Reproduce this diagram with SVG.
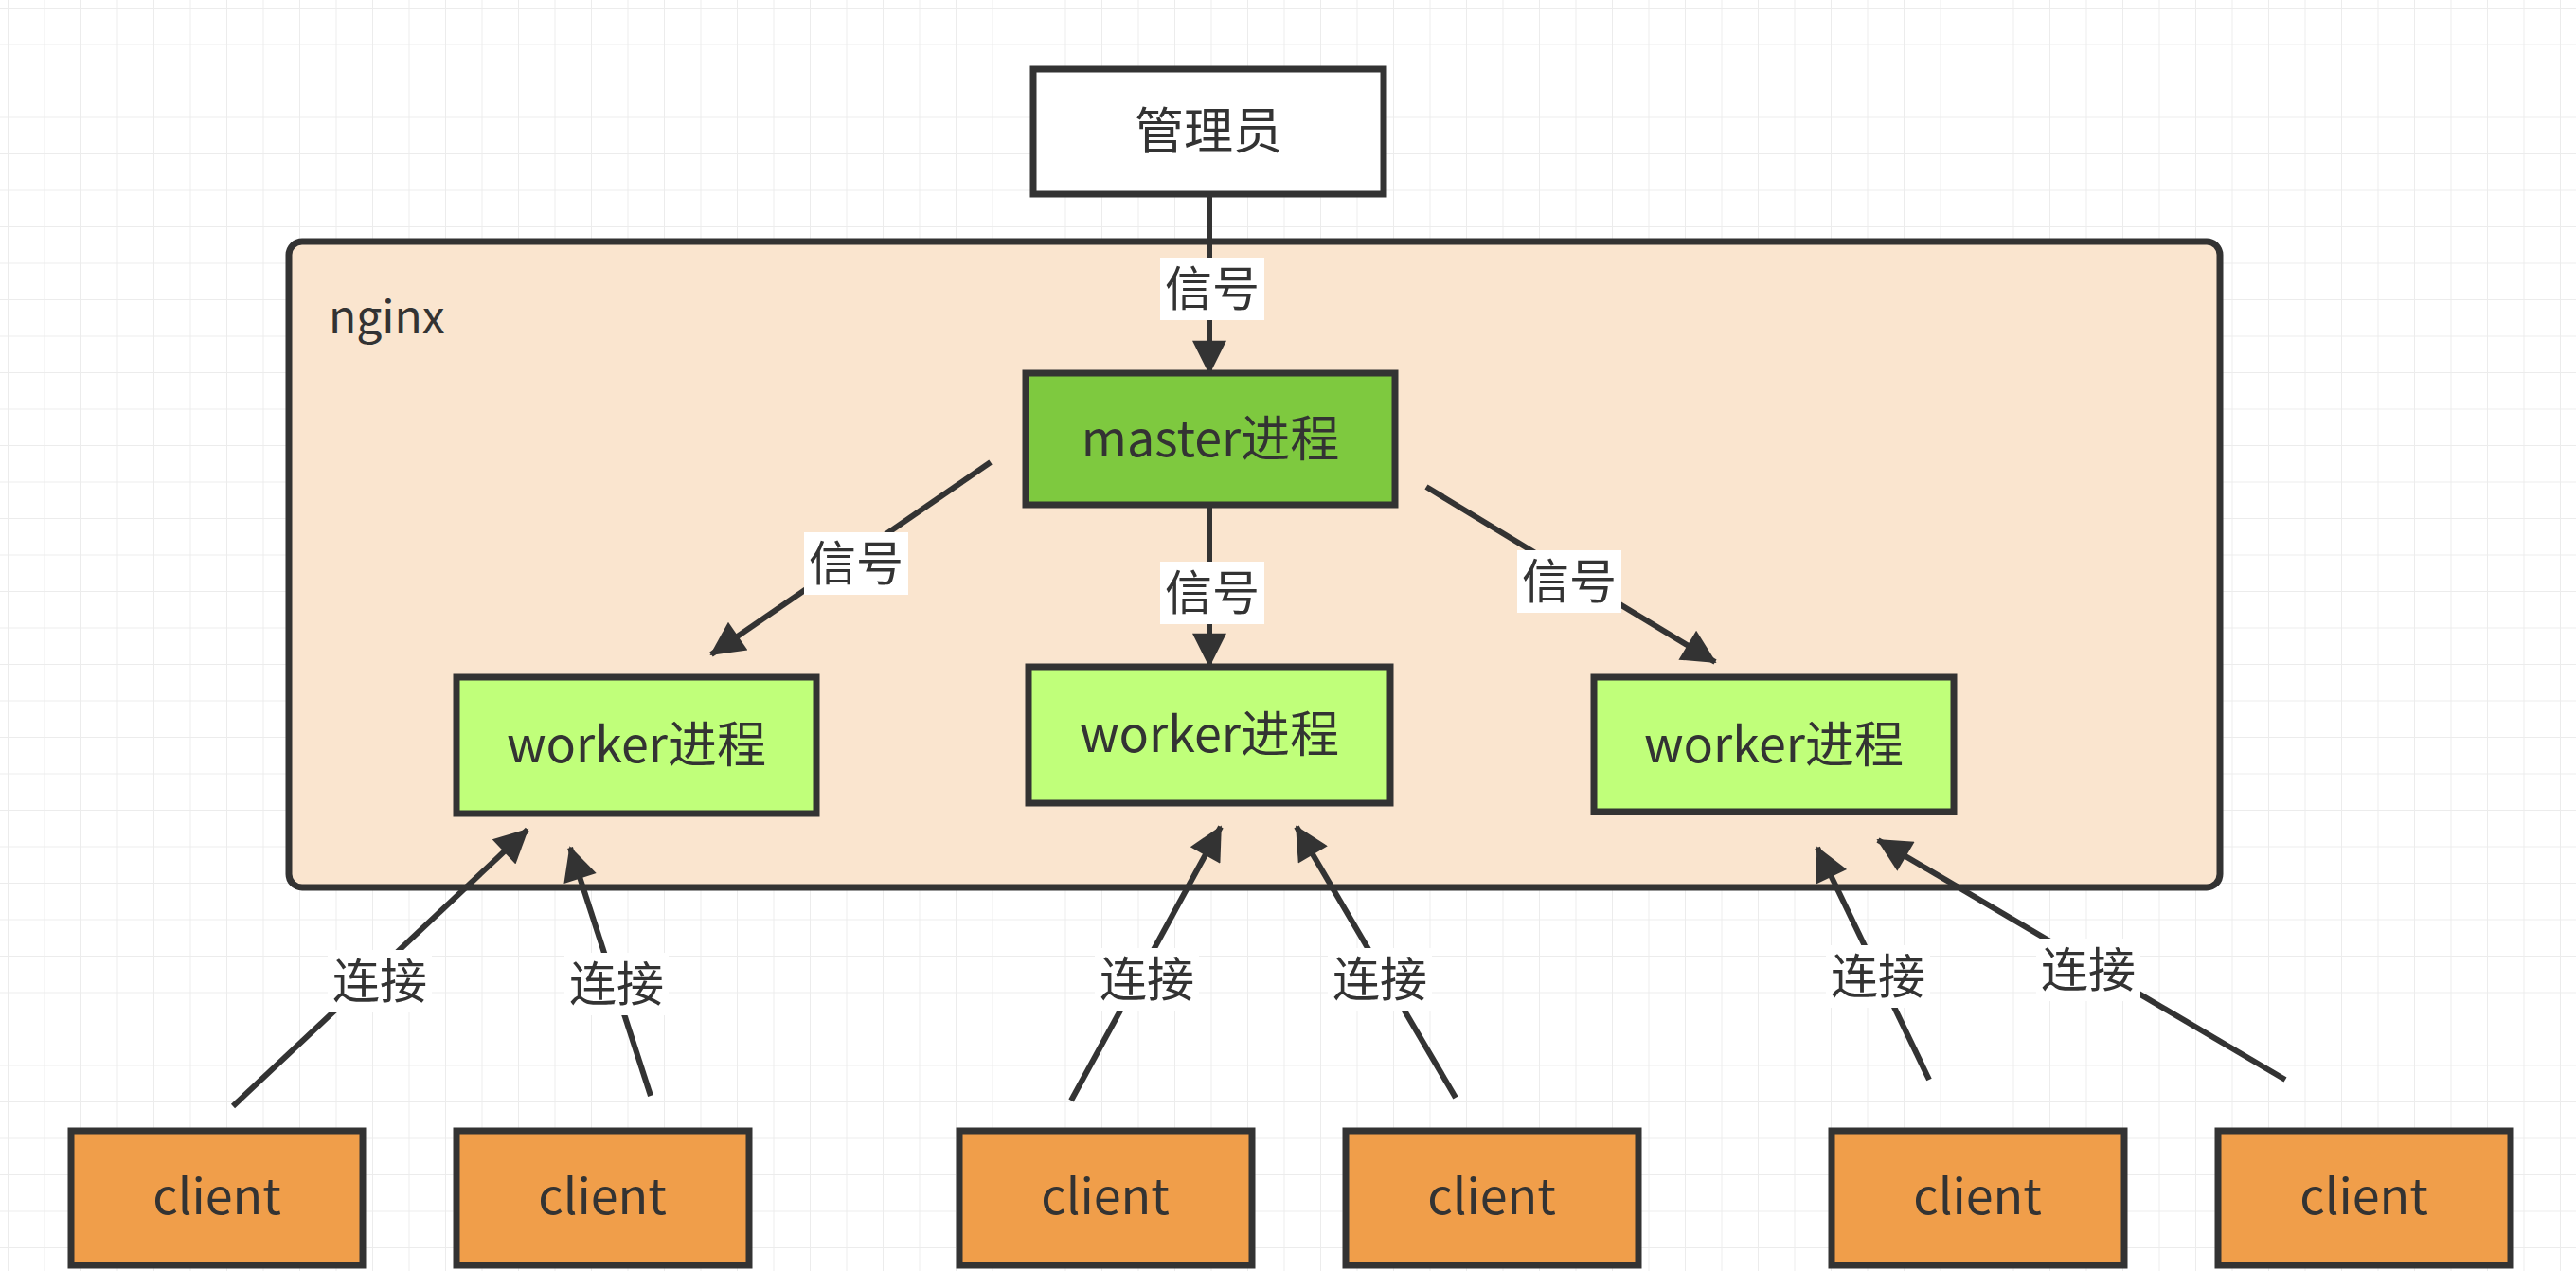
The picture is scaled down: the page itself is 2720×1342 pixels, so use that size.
<svg xmlns="http://www.w3.org/2000/svg" width="2720" height="1342" viewBox="0 0 2720 1342">
<defs>
<pattern id="grid" width="38.5" height="38.5" patternUnits="userSpaceOnUse" x="8" y="8">
<path d="M0 0H38.5M0 0V38.5" fill="none" stroke="#ececec" stroke-width="2"/>
</pattern>
<marker id="ah" markerUnits="userSpaceOnUse" viewBox="0 0 20 20" markerWidth="46" markerHeight="36" refX="19" refY="10" orient="auto">
<path d="M0,0 L20,10 L0,20 z" fill="#333"/>
</marker>
<style>
.n{stroke:#333;stroke-width:7}
.t{font-family:"Noto Sans CJK SC","Liberation Sans",sans-serif;font-size:52px;fill:#333;text-anchor:middle}
.c line{stroke:#333;stroke-width:6;marker-end:url(#ah)}
.c rect{fill:#fff}
.c text{font-family:"Noto Sans CJK SC",sans-serif;font-size:50px;fill:#333;text-anchor:middle}
</style>
</defs>
<rect width="2720" height="1342" fill="#fff"/>
<rect width="2720" height="1342" fill="url(#grid)"/>
<g id="nginx"><rect x="305" y="255" width="2039" height="682" rx="14" fill="#fae5cf" class="n"/><text x="347" y="352" class="t" style="text-anchor:start;font-size:48px">nginx</text></g>
<g id="admin"><rect x="1091" y="73" width="370" height="132" fill="#fff" class="n"/><text x="1276" y="157" class="t">管理员</text></g>
<g id="master"><rect x="1083" y="394" width="390" height="139" fill="#7ec93f" class="n"/><text x="1278" y="482" class="t">master进程</text></g>
<g id="worker1"><rect x="482" y="715" width="380" height="144" fill="#c0ff7a" class="n"/><text x="672" y="805" class="t">worker进程</text></g>
<g id="worker2"><rect x="1086" y="704" width="382" height="144" fill="#c0ff7a" class="n"/><text x="1277" y="794" class="t">worker进程</text></g>
<g id="worker3"><rect x="1683" y="715" width="380" height="142" fill="#c0ff7a" class="n"/><text x="1873" y="805" class="t">worker进程</text></g>
<g id="client1"><rect x="75" y="1194" width="308" height="142" fill="#f09e4a" class="n"/><text x="229" y="1282" class="t">client</text></g>
<g id="client2"><rect x="482" y="1194" width="309" height="142" fill="#f09e4a" class="n"/><text x="636" y="1282" class="t">client</text></g>
<g id="client3"><rect x="1013" y="1194" width="309" height="142" fill="#f09e4a" class="n"/><text x="1167" y="1282" class="t">client</text></g>
<g id="client4"><rect x="1421" y="1194" width="309" height="142" fill="#f09e4a" class="n"/><text x="1575" y="1282" class="t">client</text></g>
<g id="client5"><rect x="1934" y="1194" width="309" height="142" fill="#f09e4a" class="n"/><text x="2088" y="1282" class="t">client</text></g>
<g id="client6"><rect x="2342" y="1194" width="309" height="142" fill="#f09e4a" class="n"/><text x="2496" y="1282" class="t">client</text></g>
<g id="connectors" class="c">
<line x1="1277" y1="205" x2="1277" y2="394"/><rect x="1225" y="272" width="110" height="66"/><text x="1280" y="323">信号</text>
<line x1="1046" y1="488" x2="751" y2="691"/><rect x="849" y="562" width="110" height="66"/><text x="904" y="613">信号</text>
<line x1="1277" y1="533" x2="1277" y2="703"/><rect x="1225" y="593" width="110" height="66"/><text x="1280" y="644">信号</text>
<line x1="1506" y1="514" x2="1811" y2="699"/><rect x="1602" y="581" width="110" height="66"/><text x="1657" y="632">信号</text>
<line x1="246" y1="1168" x2="557" y2="876"/><rect x="346" y="1003" width="110" height="66"/><text x="401" y="1054">连接</text>
<line x1="687" y1="1157" x2="602" y2="895"/><rect x="596" y="1006" width="110" height="66"/><text x="651" y="1057">连接</text>
<line x1="1131" y1="1162" x2="1289" y2="873"/><rect x="1156" y="1001" width="110" height="66"/><text x="1211" y="1052">连接</text>
<line x1="1537" y1="1159" x2="1369" y2="873"/><rect x="1402" y="1001" width="110" height="66"/><text x="1457" y="1052">连接</text>
<line x1="2037" y1="1140" x2="1919" y2="895"/><rect x="1928" y="998" width="110" height="66"/><text x="1983" y="1049">连接</text>
<line x1="2413" y1="1140" x2="1983" y2="887"/><rect x="2150" y="991" width="110" height="66"/><text x="2205" y="1042">连接</text>
</g>
</svg>
